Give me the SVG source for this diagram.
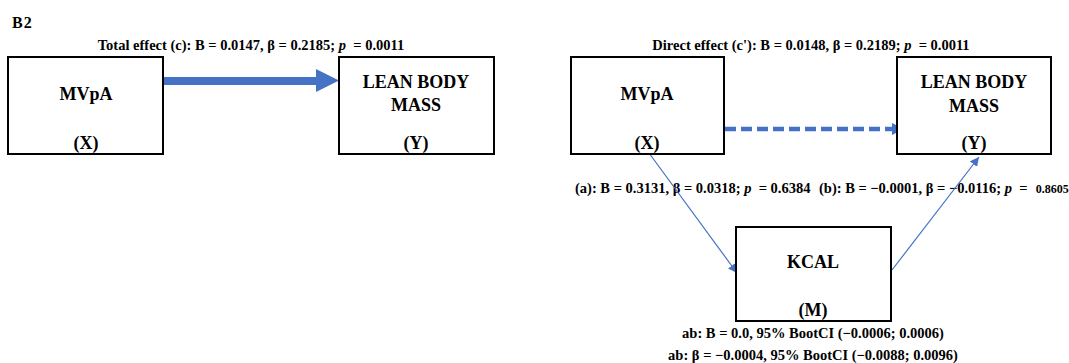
<svg xmlns="http://www.w3.org/2000/svg" width="1069" height="363" viewBox="0 0 1069 363">
<style>
  text { font-family: "Liberation Serif", "Times New Roman", serif; font-weight: bold; fill: #000; }
  .box { fill: #fff; stroke: #000; stroke-width: 2; }
  .node { font-size: 18px; text-anchor: middle; }
  .lbl { font-size: 14.5px; white-space: pre; }
  .mid { text-anchor: middle; }
  .it { font-style: italic; }
  .sm { font-size: 12px; }
  .thin { stroke: #4472C4; stroke-width: 1.2; fill: none; }
</style>
<defs>
  <marker id="ah" viewBox="0 0 10 10" refX="10" refY="5" markerWidth="9" markerHeight="9" markerUnits="userSpaceOnUse" orient="auto">
    <path d="M0,0 L10,5 L0,10 z" fill="#4472C4"/>
  </marker>
</defs>
<rect width="1069" height="363" fill="#fff"/>
<text x="12" y="28" style="font-size:16px;letter-spacing:1px">B2</text>

<g id="labels">
  <text class="lbl mid" x="251" y="50" xml:space="preserve">Total effect (c): B = 0.0147, β = 0.2185; <tspan class="it">p</tspan>  = 0.0011</text>
  <text class="lbl mid" x="811" y="50" xml:space="preserve">Direct effect (c'): B = 0.0148, β = 0.2189; <tspan class="it">p</tspan>  = 0.0011</text>
  <text class="lbl" x="575" y="193" xml:space="preserve">(a): B = 0.3131, β = 0.0318; <tspan class="it">p</tspan>  = 0.6384</text>
  <text class="lbl" x="819" y="193" xml:space="preserve">(b): B = −0.0001, β = −0.0116; <tspan class="it">p</tspan>  =  <tspan class="sm" dx="1">0.8605</tspan></text>
  <text class="lbl mid" x="813" y="338">ab: B = 0.0, 95% BootCI (−0.0006; 0.0006)</text>
  <text class="lbl mid" x="813" y="360">ab: β = −0.0004, 95% BootCI (−0.0088; 0.0096)</text>
</g>

<g id="connectors">
  <polygon points="163,77 316,77 316,69 339,80.5 316,92 316,85 163,85" fill="#4472C4"/>
  <line x1="725" y1="129" x2="893" y2="129" stroke="#4472C4" stroke-width="4.5" stroke-dasharray="11,5"/>
  <polygon points="892,123 904,129 892,135" fill="#4472C4"/>
  <line class="thin" x1="649" y1="153" x2="737" y2="273" marker-end="url(#ah)"/>
  <line class="thin" x1="892" y1="270" x2="979" y2="157" marker-end="url(#ah)"/>
</g>

<g id="node-x-left">
  <rect class="box" x="8" y="57" width="155" height="97"/>
  <text class="node" x="86" y="100">MVpA</text>
  <text class="node" x="86" y="149">(X)</text>
</g>
<g id="node-y-left">
  <rect class="box" x="339" y="57" width="155" height="97"/>
  <text class="node" x="416" y="88">LEAN BODY</text>
  <text class="node" x="416" y="111">MASS</text>
  <text class="node" x="416" y="149">(Y)</text>
</g>
<g id="node-x-right">
  <rect class="box" x="571" y="57" width="153" height="97"/>
  <text class="node" x="647" y="100">MVpA</text>
  <text class="node" x="647" y="149">(X)</text>
</g>
<g id="node-y-right">
  <rect class="box" x="897" y="57" width="154" height="97"/>
  <text class="node" x="974" y="88">LEAN BODY</text>
  <text class="node" x="974" y="112">MASS</text>
  <text class="node" x="974" y="149">(Y)</text>
</g>
<g id="node-m">
  <rect class="box" x="736" y="227" width="155" height="94"/>
  <text class="node" x="813" y="268">KCAL</text>
  <text class="node" x="813" y="316">(M)</text>
</g>
</svg>
